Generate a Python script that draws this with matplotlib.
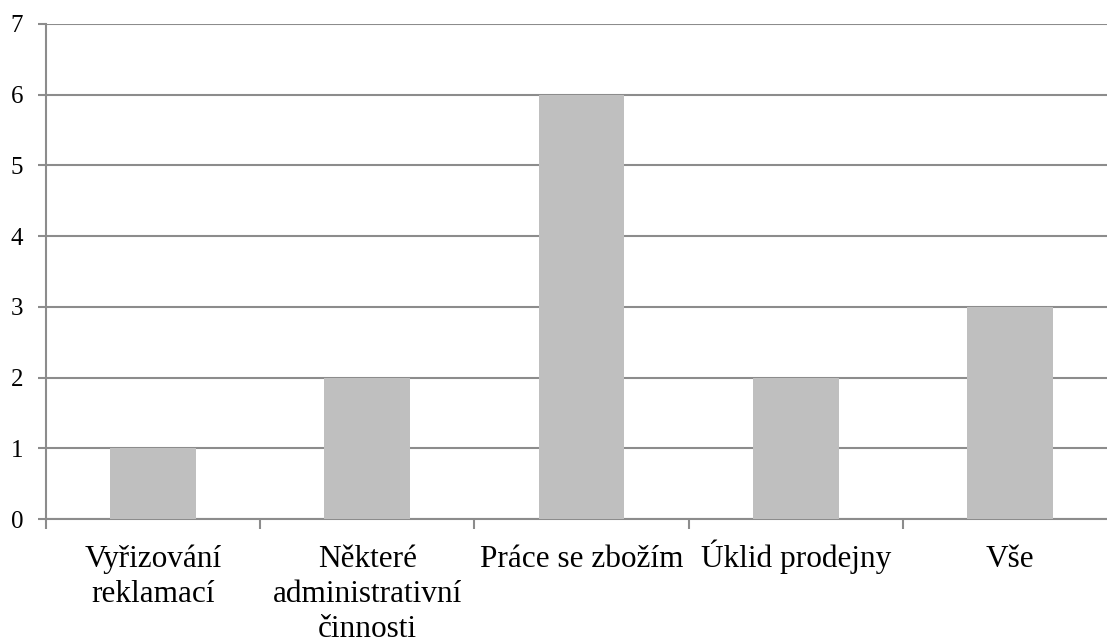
import matplotlib
matplotlib.use("Agg")
import matplotlib.pyplot as plt
import matplotlib.transforms as mtransforms
import numpy as np

plt.rcParams["font.family"] = "serif"
plt.rcParams["font.serif"] = ["Liberation Serif", "DejaVu Serif"]

categories = ["Vyřizování\nreklamací", "Některé\nadministrativní\nčinnosti",
              "Práce se zbožím", "Úklid prodejny", "Vše"]
values = [1, 2, 6, 2, 3]
y_ticks = [0, 1, 2, 3, 4, 5, 6, 7]

W, H = 1107, 644
fig = plt.figure(figsize=(W / 100, H / 100), dpi=100)
left, right, top, bottom = 46, 1117, 24, 519
ax = fig.add_axes([left / W, 1 - bottom / H, (right - left) / W, (bottom - top) / H])

grid_col = "#8c8c8c"
x = np.arange(len(categories))
ax.bar(x, values, width=0.4, color="#bfbfbf", zorder=3)

ax.set_xlim(-0.5, len(categories) - 0.5)
ax.set_ylim(0, 7)
ax.set_yticks(y_ticks)
ax.yaxis.grid(True, color=grid_col, linewidth=1.5, zorder=0)

for s in ["top", "right"]:
    ax.spines[s].set_visible(False)
for s in ["left", "bottom"]:
    ax.spines[s].set_color(grid_col)
    ax.spines[s].set_linewidth(1.5)

# category boundaries get the tick marks; names are written line by line on a shared baseline
ax.set_xticks([])
ax.set_xticks(np.arange(len(categories) + 1) - 0.5, minor=True)
ax.tick_params(axis="x", which="minor", length=7.5, width=1.5, color=grid_col)
ax.tick_params(axis="y", length=6, width=1.5, color=grid_col, pad=10.5, labelsize=18)

first_baseline = 48   # px below the x axis
line_step = 35        # px between lines
for xi, name in zip(x, categories):
    for j, line in enumerate(name.split("\n")):
        off = mtransforms.ScaledTranslation(0, -(first_baseline + j * line_step) / 100, fig.dpi_scale_trans)
        tr = mtransforms.blended_transform_factory(ax.transData, ax.transAxes) + off
        ax.text(xi, 0, line, transform=tr, ha="center", va="baseline", fontsize=22.5, clip_on=False)

fig.savefig("out.png", dpi=100)
